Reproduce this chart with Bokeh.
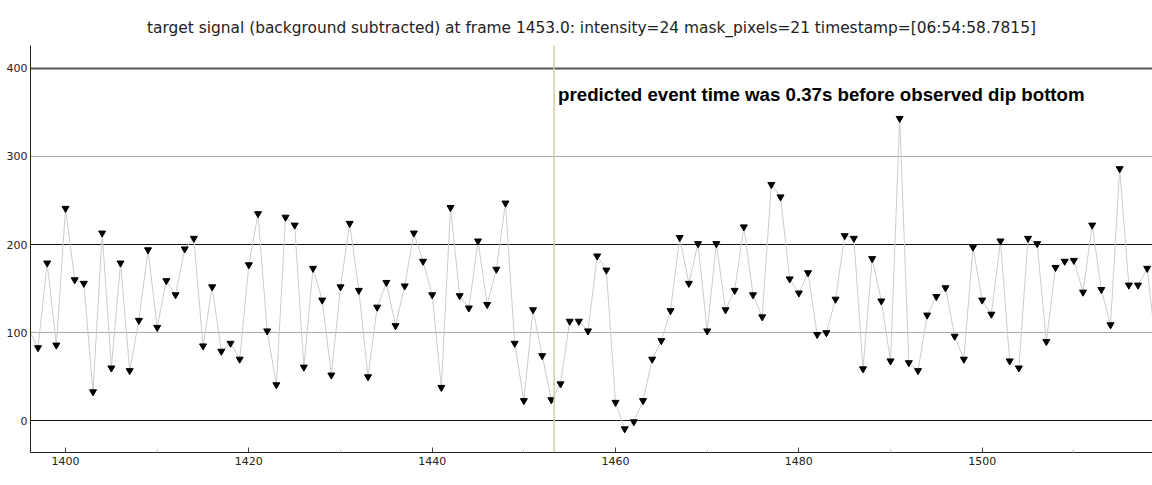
from bokeh.plotting import figure
from bokeh.models import Range1d, Span, Label, FixedTicker, Grid, ColumnDataSource, CDSView, BooleanFilter
from bokeh.embed import file_html
from bokeh.resources import INLINE

# ---- data ----
frames = list(range(1396, 1520))
intensity = [
    103, 83, 179, 86, 241, 160, 156, 33, 213, 60,
    179, 57, 114, 194, 106, 159, 143, 195, 207, 85,
    152, 79, 88, 70, 177, 235, 102, 41, 231, 222,
    61, 173, 137, 52, 152, 224, 148, 50, 129, 157,
    108, 153, 213, 181, 143, 38, 242, 142, 128, 204,
    132, 172, 247, 88, 23, 126, 74, 24, 42, 113,
    113, 102, 187, 171, 21, -9, -1, 23, 70, 91,
    125, 208, 156, 201, 102, 201, 126, 148, 220, 143,
    118, 268, 254, 161, 145, 168, 98, 100, 138, 210,
    207, 59, 184, 136, 68, 343, 66, 57, 120, 141,
    151, 96, 70, 197, 137, 121, 204, 68, 60, 207,
    201, 90, 174, 181, 182, 146, 222, 149, 109, 286,
    154, 154, 173, 80,
]
x_major_ticks = [1400, 1420, 1440, 1460, 1480, 1500]
x_minor_ticks = [1410, 1430, 1450, 1470, 1490, 1510]
y_ticks = [0, 100, 200, 300, 400]
y_dark_lines = [0, 200]
y_light_lines = [100, 300]
y_top_line = [400]
event_frame = 1453.3
annotation_y = 370
x_start, x_end = 1396.18, 1518.58
y_start, y_end = -35.8, 425.7
title_text = ("target signal (background subtracted) at frame 1453.0: intensity=24 "
              "mask_pixels=21 timestamp=[06:54:58.7815]")
annotation_text = "predicted event time was 0.37s before observed dip bottom"

src = ColumnDataSource(data=dict(x=frames, y=intensity))
# markers only for samples whose centre lies inside the visible x range
marker_view = CDSView(filter=BooleanFilter([x_start + 0.5 < f < x_end for f in frames]))

p = figure(width=1152, height=485, output_backend="svg", toolbar_location=None,
           x_range=Range1d(x_start, x_end), y_range=Range1d(y_start, y_end),
           min_border_left=30, min_border_right=0, min_border_top=45,
           min_border_bottom=33)
p.outline_line_color = None
p.background_fill_color = "white"
p.border_fill_color = "white"

p.title.text = title_text
p.title.align = "center"
p.title.text_font = "DejaVu Sans"
p.title.text_font_size = "15.4px"
p.title.text_font_style = "normal"
p.title.text_color = "#222222"
p.title.padding = 4

p.xgrid.visible = False
p.ygrid.visible = False

for ticks, color, w in [(y_light_lines, "#aaaaaa", 1), (y_dark_lines, "#111111", 1),
                        (y_top_line, "#555555", 2)]:
    g = Grid(dimension=1, ticker=FixedTicker(ticks=ticks),
             grid_line_color=color, grid_line_width=w)
    p.add_layout(g)

xa = p.xaxis[0]
xa.ticker = FixedTicker(ticks=x_major_ticks, minor_ticks=x_minor_ticks)
xa.major_tick_in = 5
xa.major_tick_out = 0
xa.minor_tick_in = 3
xa.minor_tick_out = 0
xa.major_tick_line_color = "#444444"
xa.minor_tick_line_color = "#bbbbbb"
xa.axis_line_color = "#222222"
xa.major_label_text_font = "DejaVu Sans"
xa.major_label_text_font_size = "11px"
xa.major_label_text_color = "#222222"
xa.major_label_standoff = 4

ya = p.yaxis[0]
ya.ticker = FixedTicker(ticks=y_ticks)
ya.major_tick_in = 0
ya.major_tick_out = 0
ya.minor_tick_line_color = None
ya.axis_line_color = "#222222"
ya.major_label_text_font = "DejaVu Sans"
ya.major_label_text_font_size = "11px"
ya.major_label_text_color = "#222222"
ya.major_label_standoff = 3

p.line("x", "y", source=src, line_color="#cccccc", line_width=1)
p.scatter("x", "y", source=src, view=marker_view, marker="inverted_triangle", size=7,
          fill_color="black", line_color="black")

p.add_layout(Span(location=event_frame, dimension="height",
                  line_color="#cfcf9f", line_width=1.5))
p.add_layout(Label(x=event_frame, y=annotation_y, x_offset=4, text=annotation_text,
                   text_font="Liberation Sans", text_font_style="bold",
                   text_font_size="18.7px", text_color="black",
                   text_baseline="alphabetic"))

open("out.html", "w").write(file_html(p, INLINE))
